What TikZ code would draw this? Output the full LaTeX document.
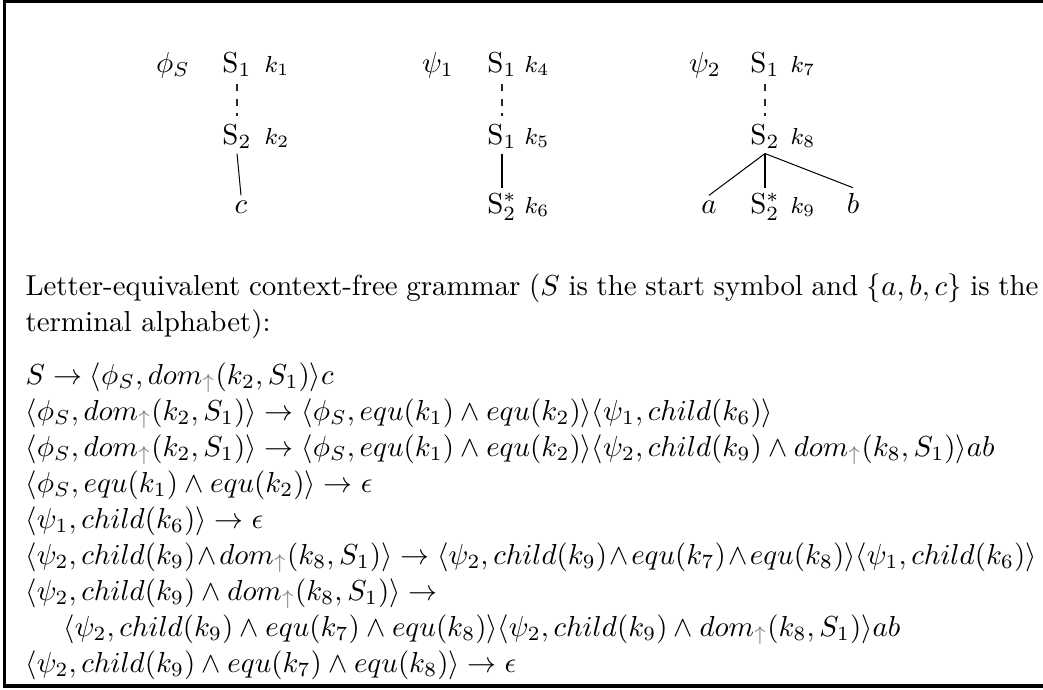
\documentclass[tikz,border=0pt]{standalone}
\usepackage{xcolor}
\newcommand{\dmup}{dom_{\textcolor{gray}{\uparrow}}}
\newlength{\fullw}
\setlength{\fullw}{350.4pt}
\begin{document}
\begin{tikzpicture}[x=0.3459pt,y=-0.3459pt,
  lbl/.style={font=\normalsize,inner sep=1.6pt,anchor=base},
  kl/.style={font=\footnotesize,inner sep=1pt,anchor=base},
  txt/.style={font=\normalsize,inner sep=0pt,anchor=base west},
  dashedge/.style={dash pattern=on 2.4pt off 2.6pt,line width=0.35pt,draw=black!85,shorten <=1pt,shorten >=1pt},
  solidedge/.style={line width=0.35pt}]
\useasboundingbox (0,0) rectangle (1043,689);
\draw[line width=1.05pt] (1050,1) -- (4.5,1) -- (4.5,686) -- (1050,686);
% tree 1
\node[lbl] (phis) at (173,72) {$\phi_S$};
\node[lbl] (a1) at (237,72) {$\mathrm{S}_1$};
\node[kl] (k1) at (277,72) {$k_1$};
\node[lbl] (a2) at (237,144) {$\mathrm{S}_2$};
\node[kl] (k2) at (277,144) {$k_2$};
\node[lbl] (a3) at (241,213) {$c$};
\draw[dashedge] (a1.south) -- (a2.north);
\draw[solidedge] (a2.south) -- (a3.north);
% tree 2
\node[lbl] (psi1) at (438,72) {$\psi_1$};
\node[lbl] (b1) at (502,72) {$\mathrm{S}_1$};
\node[kl] (k4) at (537,72) {$k_4$};
\node[lbl] (b2) at (502,144) {$\mathrm{S}_1$};
\node[kl] (k5) at (537,144) {$k_5$};
\node[lbl] (b3) at (502,213) {$\mathrm{S}_2^*$};
\node[kl] (k6) at (537,213) {$k_6$};
\draw[dashedge] (b1.south) -- (b2.north);
\draw[solidedge] (b2.south) -- (b3.north);
% tree 3
\node[lbl] (psi2) at (705,72) {$\psi_2$};
\node[lbl] (c1) at (765,72) {$\mathrm{S}_1$};
\node[kl] (k7) at (803,72) {$k_7$};
\node[lbl] (c2) at (765,144) {$\mathrm{S}_2$};
\node[kl] (k8) at (803,144) {$k_8$};
\node[lbl] (ca) at (709,213) {$a$};
\node[lbl] (c3) at (765,213) {$\mathrm{S}_2^*$};
\node[kl] (k9) at (803,213) {$k_9$};
\node[lbl] (cb) at (853,213) {$b$};
\draw[dashedge] (c1.south) -- (c2.north);
\draw[solidedge] (c2.south) -- (ca.north);
\draw[solidedge] (c2.south) -- (c3.north);
\draw[solidedge] (c2.south) -- (cb.north);
% text
\node[txt] (t1) at (25,295) {\makebox[\fullw][s]{Letter-equivalent context-free grammar ($S$ is the start symbol and $\{a, b, c\}$ is the}};
\node[txt] (t2) at (25,331) {terminal alphabet):};
\node[txt] (r1) at (25,384) {$S \to \langle \phi_S, \dmup(k_2, S_1)\rangle c$};
\node[txt] (r2) at (25,420) {$\langle \phi_S, \dmup(k_2, S_1)\rangle \to \langle \phi_S, equ(k_1) \wedge equ(k_2)\rangle\langle \psi_1, child(k_6)\rangle$};
\node[txt] (r3) at (25,456) {$\langle \phi_S, \dmup(k_2, S_1)\rangle \to \langle \phi_S, equ(k_1) \wedge equ(k_2)\rangle\langle \psi_2, child(k_9) \wedge \dmup(k_8, S_1)\rangle ab$};
\node[txt] (r4) at (25,492) {$\langle \phi_S, equ(k_1) \wedge equ(k_2)\rangle \to \epsilon$};
\node[txt] (r5) at (25,528) {$\langle \psi_1, child(k_6)\rangle \to \epsilon$};
\node[txt] (r6) at (25,564) {\medmuskip=1.5mu$\langle \psi_2, child(k_9) \wedge \dmup(k_8, S_1)\rangle \to \langle \psi_2, child(k_9) \wedge equ(k_7) \wedge equ(k_8)\rangle\langle \psi_1, child(k_6)\rangle$};
\node[txt] (r7) at (25,600) {$\langle \psi_2, child(k_9) \wedge \dmup(k_8, S_1)\rangle \to$};
\node[txt] (r8) at (63,636) {$\langle \psi_2, child(k_9) \wedge equ(k_7) \wedge equ(k_8)\rangle\langle \psi_2, child(k_9) \wedge \dmup(k_8, S_1)\rangle ab$};
\node[txt] (r9) at (25,672) {$\langle \psi_2, child(k_9) \wedge equ(k_7) \wedge equ(k_8)\rangle \to \epsilon$};
\end{tikzpicture}
\end{document}
